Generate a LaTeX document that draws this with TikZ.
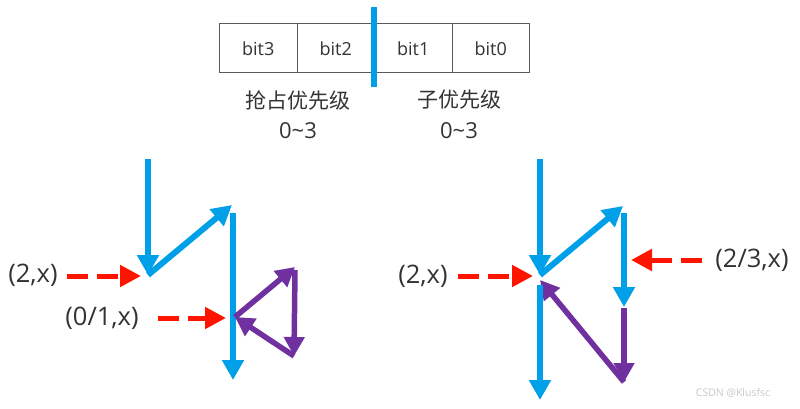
\documentclass[tikz,border=0pt]{standalone}
\usepackage{fontspec}
\setmainfont{Open Sans}
\newfontfamily\cjk{Noto Sans CJK SC}
\usetikzlibrary{arrows.meta}
\definecolor{myblue}{RGB}{0,160,233}
\definecolor{mypurple}{RGB}{112,48,160}
\definecolor{myred}{RGB}{255,20,0}
\definecolor{txt}{RGB}{51,51,51}
\definecolor{boxline}{RGB}{90,90,90}
\tikzset{
  cell/.style={draw=boxline,line width=1pt,minimum width=77.5pt,minimum height=49pt,inner sep=0pt,font=\fontsize{18}{20}\selectfont,text=txt},
  lbl/.style={inner sep=0pt,text=txt},
  big/.style={lbl,font=\fontsize{25.5}{28}\selectfont},
  blue arrow/.style={draw=myblue,line width=6pt,-{Triangle[width=21pt,length=20pt]}},
  purple arrow/.style={draw=mypurple,line width=5.5pt,-{Triangle[width=20pt,length=19pt]}},
  red arrow/.style={draw=myred,line width=5pt,dash pattern=on 21pt off 9pt,-{Triangle[width=21pt,length=21pt]}},
}
\begin{document}
\begin{tikzpicture}[x=1pt,y=-1pt]
\useasboundingbox (0,0) rectangle (800,409);
% register box
\node[cell] (b3) at (258.25,48.5) {bit3};
\node[cell] (b2) at (335.75,48.5) {bit2};
\node[cell] (b1) at (413.25,48.5) {bit1};
\node[cell] (b0) at (490.75,48.5) {bit0};
\coordinate (bartop) at (374,7);
\coordinate (barbot) at (374,87);
\draw[myblue,line width=6pt] (bartop) -- (barbot);
\node[lbl,font=\cjk\fontsize{21}{23}\selectfont] (pre) at (298,100) {抢占优先级};
\node[lbl,font=\cjk\fontsize{21}{23}\selectfont] (sub) at (459,100) {子优先级};
\node[lbl,font=\fontsize{22}{24}\selectfont] (prer) at (298,131) {0\char`~3};
\node[lbl,font=\fontsize{22}{24}\selectfont] (subr) at (459,131) {0\char`~3};

% left diagram
\coordinate (L1) at (148,159);
\coordinate (L2) at (148,275);
\coordinate (L3) at (232,205);
\coordinate (L4) at (233,213);
\coordinate (L5) at (233,380);
\coordinate (P1) at (235,317);
\coordinate (P2) at (295,267);
\coordinate (P3) at (295,270);
\coordinate (P4) at (294,356);
\draw[blue arrow] (L1) -- (L2);
\draw[blue arrow] (L2) -- (L3);
\draw[blue arrow] (L4) -- (L5);
\draw[purple arrow] (P1) -- (P2);
\draw[purple arrow] (P3) -- (P4);
\draw[purple arrow] (P4) -- (P1);
\node[big] (la) at (33,275) {(2,x)};
\node[big] (lb) at (102,318) {(0/1,x)};
\coordinate (ra1) at (67,276);
\coordinate (ra2) at (141,276);
\coordinate (rb1) at (158,318);
\coordinate (rb2) at (226,318);
\draw[red arrow] (ra1) -- (ra2);
\draw[red arrow] (rb1) -- (rb2);

% right diagram
\coordinate (R1) at (540,159);
\coordinate (R2) at (540,275);
\coordinate (R3) at (623,206);
\coordinate (R4) at (624,213);
\coordinate (R5) at (624,307);
\coordinate (R6) at (624,308);
\coordinate (R7) at (624,382);
\coordinate (R8) at (540,280);
\coordinate (R9) at (540,285);
\coordinate (R10) at (540,400);
\draw[blue arrow] (R1) -- (R2);
\draw[blue arrow] (R2) -- (R3);
\draw[blue arrow] (R4) -- (R5);
\draw[purple arrow] (R6) -- (R7);
\draw[purple arrow] (R7) -- (R8);
\draw[blue arrow] (R9) -- (R10);
\node[big] (rl) at (423,276) {(2,x)};
\node[big] (rr) at (752,260) {(2/3,x)};
\coordinate (rc1) at (458,276);
\coordinate (rc2) at (533,276);
\coordinate (rd1) at (702,260);
\coordinate (rd2) at (631,260);
\draw[red arrow] (rc1) -- (rc2);
\draw[red arrow] (rd1) -- (rd2);

\node[lbl,text=black!22,font=\fontsize{10.5}{12}\selectfont] (wm) at (733,393) {CSDN @Klusfsc};
\end{tikzpicture}
\end{document}
